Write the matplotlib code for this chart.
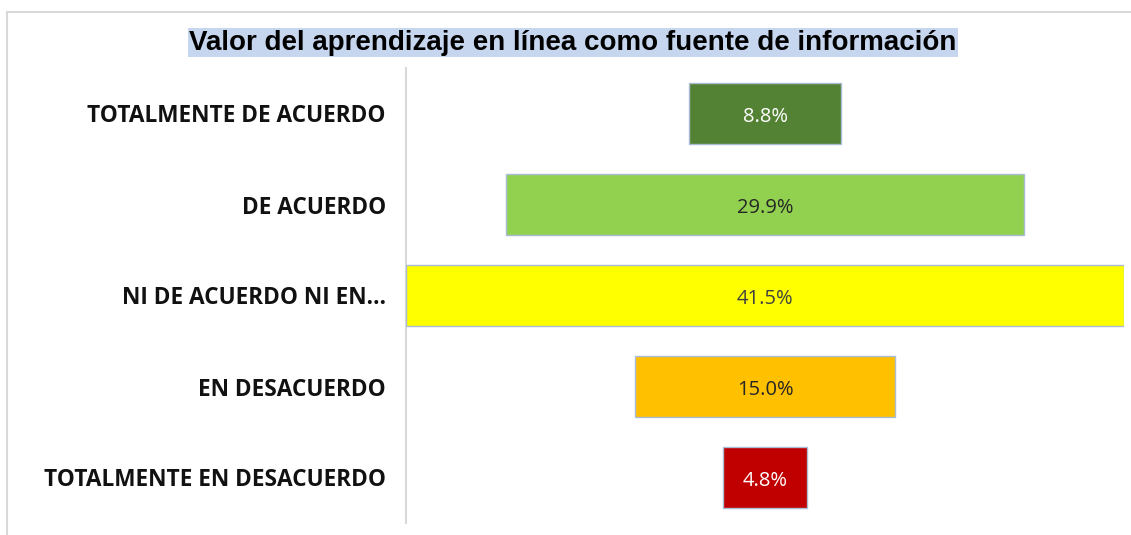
import matplotlib
matplotlib.use("Agg")
import matplotlib.pyplot as plt
from matplotlib.lines import Line2D

categories = ["TOTALMENTE DE ACUERDO", "DE ACUERDO", "NI DE ACUERDO NI EN…",
              "EN DESACUERDO", "TOTALMENTE EN DESACUERDO"]
values = [8.8, 29.9, 41.5, 15.0, 4.8]
labels = ["8.8%", "29.9%", "41.5%", "15.0%", "4.8%"]
colors = ["#548235", "#92D050", "#FFFF00", "#FFC000", "#C00000"]
text_colors = ["white", "#262626", "#404040", "#262626", "white"]
title = "Valor del aprendizaje en línea como fuente de información"

W, H = 1131, 535
fig = plt.figure(figsize=(W / 100, H / 100), dpi=100)
fig.patch.set_facecolor("white")

# axes placement in pixels
ax_left, ax_right, ax_top, ax_bottom = 406, 1124, 68, 523
ax = fig.add_axes([ax_left / W, 1 - ax_bottom / H, (ax_right - ax_left) / W, (ax_bottom - ax_top) / H])

vmax = max(values)
y = list(range(len(categories)))
offsets = [(vmax - v) / 2 for v in values]
ax.barh(y, values, left=offsets, height=0.67, color=colors,
        edgecolor="#A9BCD3", linewidth=1.0, zorder=3)
for yi, off, v, lab, tc in zip(y, offsets, values, labels, text_colors):
    ax.annotate(lab, (off + v / 2, yi), xytext=(0, -2.5), textcoords="offset points",
                ha="center", va="center", fontsize=14.5,
                family="Open Sans", color=tc, zorder=4)

ax.set_xlim(0, vmax)
ax.set_ylim(len(categories) - 0.5, -0.5)
ax.set_yticks(y)
ax.set_yticklabels(categories, fontsize=16.3, fontweight="bold", family="Open Sans", color="#111111")
ax.tick_params(axis="y", length=0, pad=14.5)
ax.set_xticks([])
for s in ["top", "right", "bottom"]:
    ax.spines[s].set_visible(False)
ax.spines["left"].set_color("#D9D9D9")
ax.spines["left"].set_linewidth(1.5)

# title with background
fig.text(573 / W, 1 - 42.5 / H, title, ha="center", va="center", fontsize=20,
         fontweight="bold", family="Liberation Sans", color="black",
         bbox=dict(boxstyle="square,pad=0.06", facecolor="#C6D6EE", edgecolor="none"))

# outer chart border remnants
fig.add_artist(Line2D([6.5 / W, 6.5 / W], [0, 1 - 11.5 / H], transform=fig.transFigure,
                      color="#D9D9D9", linewidth=1.5))
fig.add_artist(Line2D([6.5 / W, 1], [1 - 11.5 / H, 1 - 11.5 / H], transform=fig.transFigure,
                      color="#D9D9D9", linewidth=1.5))

fig.savefig("out.png", dpi=100, facecolor="white")
